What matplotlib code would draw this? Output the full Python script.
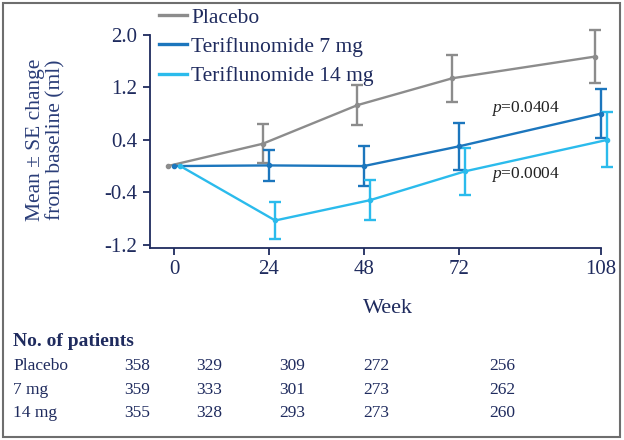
import matplotlib
matplotlib.use("Agg")
import matplotlib.pyplot as plt
from matplotlib.lines import Line2D
from matplotlib.patches import Rectangle

SERIF = 'Liberation Serif'
plt.rcParams['font.family'] = SERIF
plt.rcParams['mathtext.fontset'] = 'custom'
plt.rcParams['mathtext.it'] = 'Liberation Serif:italic'
plt.rcParams['mathtext.rm'] = 'Liberation Serif'

weeks = [0, 24, 48, 72, 108]
groups = ["Placebo", "Teriflunomide 7 mg", "Teriflunomide 14 mg"]
offsets = [-1.6, 0.0, 1.6]
colors = ["#8c8c8c", "#1c76bd", "#2bbbec"]

placebo_mean = [0.0, 0.34, 0.93, 1.34, 1.67]
placebo_se = [0.0, 0.30, 0.31, 0.36, 0.40]
mg7_mean = [0.0, 0.01, 0.0, 0.30, 0.80]
mg7_se = [0.0, 0.24, 0.30, 0.36, 0.37]
mg14_mean = [0.0, -0.83, -0.52, -0.08, 0.40]
mg14_se = [0.0, 0.28, 0.30, 0.36, 0.42]

p_labels = ["0.0404", "0.0004"]

table_rows = ["Placebo", "7 mg", "14 mg"]
patients_placebo = [358, 329, 309, 272, 256]
patients_7mg = [359, 333, 301, 273, 262]
patients_14mg = [355, 328, 293, 273, 260]

navy = "#1f2b5e"

fig = plt.figure(figsize=(6.24, 4.4), dpi=100)
ax = fig.add_axes([150/624, 1-248/440, (601-150)/624, (248-35)/440])

means = [placebo_mean, mg7_mean, mg14_mean]
ses = [placebo_se, mg7_se, mg14_se]
for m, s, off, c in zip(means, ses, offsets, colors):
    x = [w + off for w in weeks]
    ax.errorbar(x[1:], m[1:], yerr=s[1:], fmt='none', ecolor=c, elinewidth=1.7,
                capsize=4, capthick=1.7, clip_on=False, zorder=2)
    ax.plot(x, m, color=c, lw=1.7, marker='o', ms=3, clip_on=False, zorder=3)

ax.set_xlim(-6.07, 108)
ax.set_ylim(-1.25, 2.0)
ax.set_xticks(weeks)
ax.set_yticks([-1.2, -0.4, 0.4, 1.2, 2.0])
ax.set_yticklabels(["-1.2", "-0.4", "0.4", "1.2", "2.0"])
for side in ["top", "right"]:
    ax.spines[side].set_visible(False)
for side in ["left", "bottom"]:
    ax.spines[side].set_color(navy)
    ax.spines[side].set_linewidth(1.3)
ax.tick_params(colors=navy, labelsize=15, length=5, width=1.3, labelcolor=navy, pad=4)
for lab in ax.get_xticklabels() + ax.get_yticklabels():
    lab.set_family(SERIF)
ax.set_xlabel("Week", fontsize=16, color=navy, family=SERIF)
ax.xaxis.set_label_coords((388-150)/451, -(308-248)/213)
ax.xaxis.label.set_va('center')
ax.patch.set_visible(False)

ax.text(0.757, (248-108)/213, "$p$=" + p_labels[0], transform=ax.transAxes, fontsize=12.5,
        color="#222222", ha='left', va='center')
ax.text(0.757, (248-175)/213, "$p$=" + p_labels[1], transform=ax.transAxes, fontsize=12.5,
        color="#222222", ha='left', va='center')

handles = [Line2D([], [], color=c, lw=2.4) for c in colors]
fig.legend(handles, groups, loc='upper left', bbox_to_anchor=(148/624, 1+3/440),
           frameon=False, handlelength=1.3, handletextpad=0.2,
           labelspacing=0.42, borderpad=0, labelcolor=navy,
           prop={'family': SERIF, 'size': 15.5})

fig.text(46/624, 1-140/440, "Mean ± SE change\nfrom baseline (ml)", rotation=90,
         ha='center', va='center', fontsize=15.5, color="#2a3d78", linespacing=1.1,
         family=SERIF)

fig.text(13/624, 1-341/440, "No. of patients", fontsize=14, fontweight='bold',
         color=navy, ha='left', va='center', family=SERIF)
col_x = [137, 209, 292, 376, 502]
row_y = [366, 390, 413]
for name, counts, y in zip(table_rows, [patients_placebo, patients_7mg, patients_14mg], row_y):
    fig.text(13/624, 1-y/440, name, fontsize=12.5, color=navy, ha='left', va='center',
             family=SERIF)
    for cx, n in zip(col_x, counts):
        fig.text(cx/624, 1-y/440, str(n), fontsize=12.5, color=navy, ha='center',
                 va='center', family=SERIF)

fig.patches.append(Rectangle((3/624, 3/440), 617/624, 434/440, transform=fig.transFigure,
                             fill=False, edgecolor="#6e6e6e", lw=1.5))

fig.savefig("out.png", dpi=100)
